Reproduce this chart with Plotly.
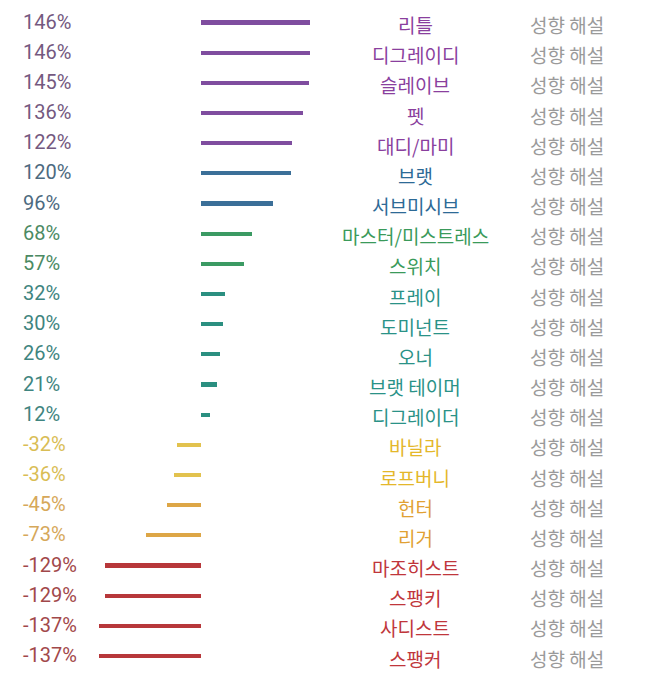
import plotly.graph_objects as go

labels = ["리틀", "디그레이디", "슬레이브", "펫", "대디/마미", "브랫", "서브미시브",
          "마스터/미스트레스", "스위치", "프레이", "도미넌트", "오너", "브랫 테이머",
          "디그레이더", "바닐라", "로프버니", "헌터", "리거", "마조히스트", "스팽키",
          "사디스트", "스팽커"]
values = [146, 146, 145, 136, 122, 120, 96, 68, 57, 32, 30, 26, 21, 12,
          -32, -36, -45, -73, -129, -129, -137, -137]
groups = ["purple"] * 5 + ["blue"] * 2 + ["green"] * 2 + ["teal"] * 5 + \
         ["yellow"] * 2 + ["orange"] * 2 + ["red"] * 4
link_text = "성향 해설"

bar_colors = {"purple": "#7f4d9f", "blue": "#3b6f98", "green": "#3b9a63",
              "teal": "#2b8f80", "yellow": "#e2c24e", "orange": "#dda646",
              "red": "#b7373a"}
label_colors = {"purple": "#8a3f9e", "blue": "#2d6a96", "green": "#3a9a5a",
                "teal": "#2a9287", "yellow": "#e4b72a", "orange": "#e1a133",
                "red": "#c0363b"}
pct_colors = {"purple": "#74597f", "blue": "#4d6a80", "green": "#4c8a63",
              "teal": "#3f8580", "yellow": "#d9bd55", "orange": "#d6a85a",
              "red": "#a2484a"}

ys = list(range(len(labels)))

W, H = 637, 677

fig = go.Figure()
fig.add_trace(go.Bar(
    x=values, y=ys, orientation="h", width=0.14,
    marker=dict(color=[bar_colors[g] for g in groups], line=dict(width=0)),
    hoverinfo="skip", showlegend=False,
))

annotations = []
for y, v, lab, g in zip(ys, values, labels, groups):
    annotations.append(dict(
        x=13 / W, xref="paper", y=y, yref="y", text=f"{v}%",
        xanchor="left", yanchor="middle", showarrow=False,
        font=dict(family="Roboto", size=20, color=pct_colors[g]), yshift=1))
    annotations.append(dict(
        x=407 / W, xref="paper", y=y, yref="y", text=lab,
        xanchor="center", yanchor="middle", showarrow=False,
        font=dict(family="Noto Sans CJK KR", size=19, color=label_colors[g]), yshift=-2))
    annotations.append(dict(
        x=559 / W, xref="paper", y=y, yref="y", text=link_text,
        xanchor="center", yanchor="middle", showarrow=False,
        font=dict(family="Noto Sans CJK KR", size=19, color="#9a9a9a"), yshift=-2))

fig.update_layout(
    width=W, height=H,
    margin=dict(l=0, r=0, t=0, b=0),
    paper_bgcolor="white", plot_bgcolor="white",
    xaxis=dict(range=[-258.4, 594.4], visible=False, fixedrange=True),
    yaxis=dict(range=[21.96, -0.481], visible=False, fixedrange=True),
    annotations=annotations,
    bargap=0,
)

fig.write_html("out.html")
